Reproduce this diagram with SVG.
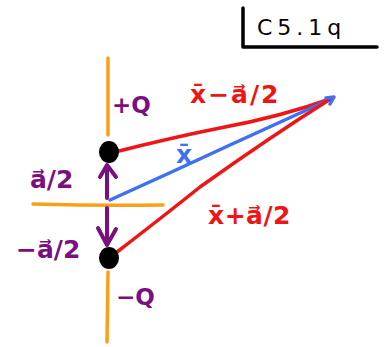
<svg xmlns="http://www.w3.org/2000/svg" width="385" height="347" viewBox="0 0 385 347">
<style>
.ln{fill:none;stroke-linecap:round;stroke-linejoin:round}
.or{stroke:#f7a11a;stroke-width:3.5}
.rd{stroke:#f01414;stroke-width:3.5}
.bl{stroke:#3f6ff2;stroke-width:3.5}
.pu{stroke:#7a0f80;stroke-width:4}
.bk{stroke:#000;stroke-width:3.5}
.t{font-family:"DejaVu Sans","Liberation Sans",sans-serif;font-size:25px;font-weight:bold}
.q{font-size:23px}
.tp{fill:#7a0f80}
.tr{fill:#f01414}
.tb{fill:#3f6ff2}
</style>
<rect width="385" height="347" fill="#fff"/>
<g id="title">
<path class="ln bk" d="M243 8 L243 47 L377 47"/>
<text class="t" x="257" y="35" style="font-size:22px;font-weight:normal;letter-spacing:5px" fill="#000">C5.1q</text>
</g>
<g id="axes">
<path class="ln or" d="M108 58 L108 135"/>
<path class="ln or" d="M108 272 L107 342"/>
<path class="ln or" d="M33 204 Q100 206 163 205"/>
</g>
<g id="connectors">
<path class="ln rd" d="M115 152 Q170 138 220 128 Q280 117 333 98"/>
<path class="ln bl" d="M110 200 Q170 173 230 145 Q285 120 333 98"/>
<path class="ln rd" d="M117 252 Q165 215 200 187 Q270 137 332 98"/>
<path class="ln bl" d="M326 98 L334 97 L330 104"/>
<path class="ln pu" d="M107 198 L107 166 M100 177 L107 165 L116 177"/>
<path class="ln pu" d="M107 208 L107 244 M98 228 L107 245 L116 229"/>
</g>
<g id="charge-plus">
<ellipse cx="109" cy="152" rx="10" ry="11" fill="#000"/>
<text class="t q tp" x="112" y="113">+Q</text>
</g>
<g id="charge-minus">
<ellipse cx="109" cy="258" rx="10" ry="11" fill="#000"/>
<text class="t q tp" x="116" y="305">−Q</text>
</g>
<g id="labels">
<text class="t tp" x="30" y="188">a⃗/2</text>
<text class="t tp" x="16" y="258">−a⃗/2</text>
<text class="t tr" x="190" y="103" style="letter-spacing:2px">x̄−a⃗/2</text>
<text class="t tr" x="208" y="224" style="letter-spacing:0.5px">x̄+a⃗/2</text>
<text class="t tb" x="176" y="163">x̄</text>
</g>
</svg>
